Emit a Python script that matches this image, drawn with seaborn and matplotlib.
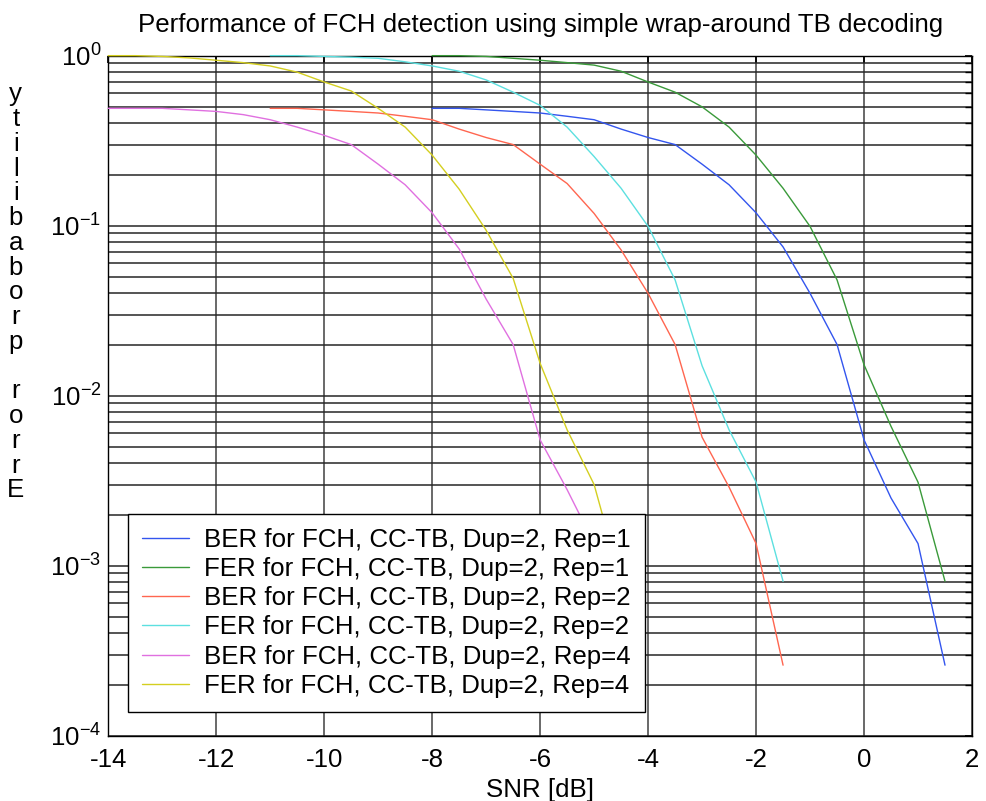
import numpy as np
import pandas as pd
import matplotlib
matplotlib.use('Agg')
import matplotlib.pyplot as plt
from matplotlib.ticker import LogLocator, NullFormatter
import seaborn as sns

# SNR grids (dB) for each repetition setting
snr_rep1 = [-8, -7.5, -7, -6.5, -6, -5.5, -5, -4.5, -4, -3.5, -3, -2.5, -2, -1.5, -1, -0.5, 0, 0.5, 1, 1.5]
snr_rep2 = [-11, -10.5, -10, -9.5, -9, -8.5, -8, -7.5, -7, -6.5, -6, -5.5, -5, -4.5, -4, -3.5, -3, -2.5, -2, -1.5]
snr_rep4 = [-14, -13.5, -13, -12.5, -12, -11.5, -11, -10.5, -10, -9.5, -9, -8.5, -8, -7.5, -7, -6.5, -6, -5.5, -5, -4.5]

# error probabilities
ber_rep1 = [0.49, 0.49, 0.48, 0.47, 0.46, 0.44, 0.42, 0.37, 0.33, 0.30, 0.23, 0.174, 0.119, 0.075, 0.040, 0.020, 0.0055, 0.0025, 0.00135, 0.00026]
fer_rep1 = [1.0, 1.0, 0.99, 0.965, 0.94, 0.91, 0.88, 0.81, 0.70, 0.61, 0.50, 0.38, 0.26, 0.166, 0.099, 0.048, 0.0152, 0.0066, 0.0031, 0.00081]
ber_rep2 = [0.49, 0.49, 0.48, 0.47, 0.46, 0.44, 0.42, 0.37, 0.33, 0.30, 0.23, 0.177, 0.118, 0.072, 0.040, 0.020, 0.0057, 0.0029, 0.00135, 0.00026]
fer_rep2 = [1.0, 1.0, 0.99, 0.98, 0.965, 0.92, 0.87, 0.81, 0.72, 0.61, 0.51, 0.38, 0.255, 0.166, 0.099, 0.048, 0.015, 0.0063, 0.0031, 0.00081]
ber_rep4 = [0.49, 0.49, 0.49, 0.48, 0.47, 0.45, 0.42, 0.38, 0.34, 0.30, 0.23, 0.174, 0.119, 0.073, 0.037, 0.020, 0.0055, 0.0028, 0.00135, 0.00026]
fer_rep4 = [1.0, 1.0, 0.99, 0.97, 0.94, 0.91, 0.87, 0.80, 0.70, 0.62, 0.49, 0.38, 0.26, 0.164, 0.094, 0.049, 0.0155, 0.0063, 0.0030, 0.0008]

labels = ['BER for FCH, CC-TB, Dup=2, Rep=1',
          'FER for FCH, CC-TB, Dup=2, Rep=1',
          'BER for FCH, CC-TB, Dup=2, Rep=2',
          'FER for FCH, CC-TB, Dup=2, Rep=2',
          'BER for FCH, CC-TB, Dup=2, Rep=4',
          'FER for FCH, CC-TB, Dup=2, Rep=4']
colors = ['#3355ee', '#3a9a3a', '#ff6650', '#5ce0e0', '#e070e0', '#d4cf20']

series = [(snr_rep1, ber_rep1), (snr_rep1, fer_rep1),
          (snr_rep2, ber_rep2), (snr_rep2, fer_rep2),
          (snr_rep4, ber_rep4), (snr_rep4, fer_rep4)]

frames = []
for lab, (x, y) in zip(labels, series):
    frames.append(pd.DataFrame({'snr': x, 'prob': y, 'curve': lab}))
df = pd.concat(frames, ignore_index=True)

sns.set_theme(style='white')
plt.rcParams['font.family'] = ['Liberation Sans', 'DejaVu Sans']
plt.rcParams['mathtext.default'] = 'regular'
plt.rcParams['axes.unicode_minus'] = False
plt.rcParams['text.color'] = 'black'
plt.rcParams['axes.labelcolor'] = 'black'

fs = 18.6

fig = plt.figure(figsize=(9.86, 8.01), dpi=100)
ax = fig.add_axes([0.1098, 0.0815, 0.876, 0.849])

sns.lineplot(data=df, x='snr', y='prob', hue='curve', hue_order=labels,
             palette=dict(zip(labels, colors)), estimator=None, sort=False,
             linewidth=1.0, ax=ax)
# MATLAB-like: curves sit on top of the box
for ln in ax.lines:
    ln.set_clip_on(False)
    ln.set_zorder(3)

ax.set_yscale('log')
ax.set_xlim(-14, 2)
ax.set_ylim(1e-4, 1)
ax.set_xticks(range(-14, 3, 2))
ax.yaxis.set_major_locator(LogLocator(base=10, numticks=10))
ax.yaxis.set_minor_locator(LogLocator(base=10, subs=np.arange(2, 10), numticks=40))
ax.yaxis.set_minor_formatter(NullFormatter())

ax.set_axisbelow(True)
ax.grid(True, which='both', axis='y', color='0.15', linewidth=1.1)
ax.grid(True, which='major', axis='x', color='0.25', linewidth=1.1)
ax.tick_params(which='both', direction='in', top=True, right=True,
               labelsize=fs, colors='black', length=5)
ax.tick_params(axis='x', pad=9)
ax.tick_params(axis='y', pad=5)
for sp in ax.spines.values():
    sp.set_color('black')
    sp.set_linewidth(1.0)

ax.set_title('Performance of FCH detection using simple wrap-around TB decoding',
             fontsize=fs, pad=17)
ax.set_xlabel('SNR [dB]', fontsize=fs, labelpad=4)
ax.set_ylabel('')
fig.text(0.016, 0.635, '\n'.join('Error probability'[::-1]), ha='center', va='center',
         fontsize=fs, linespacing=1.04)

leg = ax.legend(loc='lower left', bbox_to_anchor=(0.0228, 0.035), fontsize=fs,
                frameon=True, fancybox=False, edgecolor='black', framealpha=1,
                borderaxespad=0, handlelength=1.8, handletextpad=0.6,
                labelspacing=0.2, borderpad=0.55)
leg.get_frame().set_linewidth(1.0)

fig.savefig('out.png', dpi=100)
